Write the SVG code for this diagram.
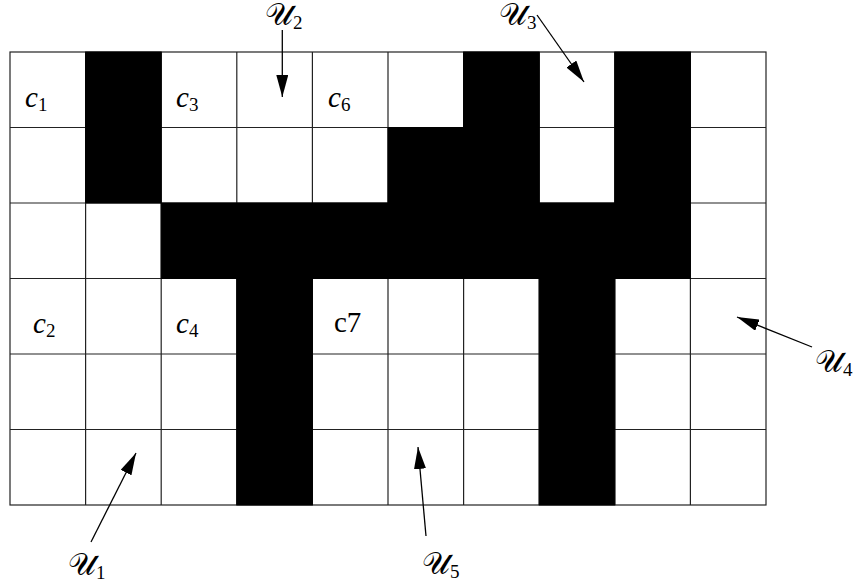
<svg xmlns="http://www.w3.org/2000/svg" width="858" height="586" viewBox="0 0 858 586">
<style>
.cell{fill:#fff;stroke:#222;stroke-width:1.2}
.blk{fill:#000;stroke:#000;stroke-width:1}
.lbl{font-family:"Liberation Serif",serif;font-size:29px;font-style:italic;fill:#000}
.sub{font-style:normal;font-size:19px}
.ulbl{font-family:"DejaVu Serif","Liberation Serif",serif;font-size:31px;fill:#000}
.usub{font-family:"Liberation Serif",serif;font-size:19px}
.arr{stroke:#000;stroke-width:1.3;fill:none;marker-end:url(#ah)}
</style>
<defs>
<marker id="ah" viewBox="0 0 22 12" refX="22" refY="6" markerWidth="22" markerHeight="12" markerUnits="userSpaceOnUse" orient="auto">
<path d="M0,0 L22,6 L0,12 Z" fill="#000"/>
</marker>
</defs>
<g id="grid">
<rect class="cell" x="10" y="52" width="756" height="453"/>
<g stroke="#222" stroke-width="1.2">
<line x1="85.6" y1="52" x2="85.6" y2="505"/>
<line x1="161.2" y1="52" x2="161.2" y2="505"/>
<line x1="236.8" y1="52" x2="236.8" y2="505"/>
<line x1="312.4" y1="52" x2="312.4" y2="505"/>
<line x1="388" y1="52" x2="388" y2="505"/>
<line x1="463.6" y1="52" x2="463.6" y2="505"/>
<line x1="539.2" y1="52" x2="539.2" y2="505"/>
<line x1="614.8" y1="52" x2="614.8" y2="505"/>
<line x1="690.4" y1="52" x2="690.4" y2="505"/>
<line x1="10" y1="127.5" x2="766" y2="127.5"/>
<line x1="10" y1="203" x2="766" y2="203"/>
<line x1="10" y1="278.5" x2="766" y2="278.5"/>
<line x1="10" y1="354" x2="766" y2="354"/>
<line x1="10" y1="429.5" x2="766" y2="429.5"/>
</g>
</g>
<g id="obstacles">
<rect class="blk" x="85.6" y="52" width="75.6" height="151"/>
<rect class="blk" x="463.6" y="52" width="75.6" height="151"/>
<rect class="blk" x="388" y="127.5" width="75.6" height="75.5"/>
<rect class="blk" x="614.8" y="52" width="75.6" height="151"/>
<rect class="blk" x="161.2" y="203" width="529.2" height="75.5"/>
<rect class="blk" x="236.8" y="278.5" width="75.6" height="226.5"/>
<rect class="blk" x="539.2" y="278.5" width="75.6" height="226.5"/>
</g>
<g id="c1"><text class="lbl" x="25" y="107">c<tspan class="sub" dy="4">1</tspan></text></g>
<g id="c3"><text class="lbl" x="176" y="107">c<tspan class="sub" dy="4">3</tspan></text></g>
<g id="c6"><text class="lbl" x="328" y="107">c<tspan class="sub" dy="4">6</tspan></text></g>
<g id="c2"><text class="lbl" x="33" y="333">c<tspan class="sub" dy="4">2</tspan></text></g>
<g id="c4"><text class="lbl" x="176" y="333">c<tspan class="sub" dy="4">4</tspan></text></g>
<g id="c7"><text class="lbl" x="334" y="332" style="font-style:normal">c7</text></g>
<g id="connectors">
<line class="arr" x1="282.3" y1="30" x2="282.3" y2="97"/>
<line class="arr" x1="537" y1="15" x2="584" y2="82"/>
<line class="arr" x1="812" y1="347" x2="737" y2="317"/>
<line class="arr" x1="91" y1="542" x2="136" y2="453"/>
<line class="arr" x1="426" y1="536" x2="418" y2="447"/>
</g>
<g id="U2"><text class="ulbl" x="265" y="25">𝒰<tspan class="usub" dy="4">2</tspan></text></g>
<g id="U3"><text class="ulbl" x="499" y="25">𝒰<tspan class="usub" dy="4">3</tspan></text></g>
<g id="U4"><text class="ulbl" x="815" y="372">𝒰<tspan class="usub" dy="4">4</tspan></text></g>
<g id="U1"><text class="ulbl" x="68" y="575">𝒰<tspan class="usub" dy="4">1</tspan></text></g>
<g id="U5"><text class="ulbl" x="422" y="574">𝒰<tspan class="usub" dy="4">5</tspan></text></g>
</svg>
